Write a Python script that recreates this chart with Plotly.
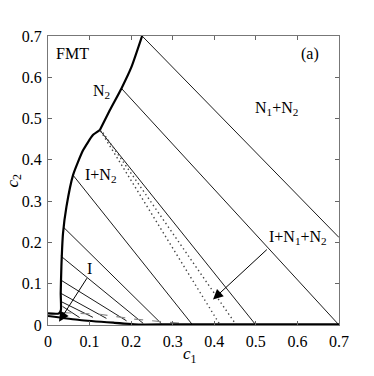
import plotly.graph_objects as go

# I/N2 binodal, lower branch (hook at the bottom up to the kink)
low_bin_c1 = [0.0, 0.026, 0.031, 0.0306, 0.0322, 0.0361, 0.0443, 0.0602, 0.0843, 0.108, 0.1245]
low_bin_c2 = [0.028, 0.028, 0.036, 0.0767, 0.141, 0.222, 0.286, 0.363, 0.423, 0.460, 0.472]
# N2 branch above the kink
up_bin_c1 = [0.1245, 0.1486, 0.1767, 0.2008, 0.2264]
up_bin_c2 = [0.472, 0.520, 0.573, 0.625, 0.700]

# lower thick boundary (I / N1 side)
low_c1 = [0.0, 0.076, 0.157, 0.221, 0.30, 0.70]
low_c2 = [0.0218, 0.0121, 0.0056, 0.0012, 0.0015, 0.0015]

# dashed curve
dash_c1 = [0.035, 0.125, 0.20, 0.33]
dash_c2 = [0.030, 0.026, 0.015, 0.003]

# solid tie lines (start -> end)
tie_x0 = [0.2264, 0.1767, 0.1245, 0.0602, 0.0361, 0.031, 0.0306, 0.031, 0.033, 0.035]
tie_y0 = [0.700, 0.573, 0.472, 0.363, 0.238, 0.167, 0.109, 0.0767, 0.056, 0.045]
tie_x1 = [0.700, 0.700, 0.500, 0.348, 0.273, 0.229, 0.189, 0.1405, 0.108, 0.076]
tie_y1 = [0.212, 0.000, 0.000, 0.000, 0.003, 0.004, 0.010, 0.016, 0.0186, 0.018]

# dotted three-phase triangle edges
dot_x0 = [0.1265, 0.132]
dot_y0 = [0.470, 0.466]
dot_x1 = [0.414, 0.453]
dot_y1 = [0.0, 0.0]

ticks = [0, 0.1, 0.2, 0.3, 0.4, 0.5, 0.6, 0.7]
tick_text = ["0", "0.1", "0.2", "0.3", "0.4", "0.5", "0.6", "0.7"]

font = "Times New Roman, Liberation Serif, serif"

fig = go.Figure()

tx, ty = [], []
for a, b, c, d in zip(tie_x0, tie_y0, tie_x1, tie_y1):
    tx += [a, c, None]
    ty += [b, d, None]
fig.add_trace(go.Scatter(x=tx, y=ty, mode="lines", line=dict(color="black", width=0.9)))

dx, dy = [], []
for a, b, c, d in zip(dot_x0, dot_y0, dot_x1, dot_y1):
    dx += [a, c, None]
    dy += [b, d, None]
fig.add_trace(go.Scatter(x=dx, y=dy, mode="lines", line=dict(color="#444", width=1.4, dash="1.4px,3px")))

fig.add_trace(go.Scatter(x=dash_c1, y=dash_c2, mode="lines", line=dict(color="#888", width=1.2, dash="dash")))
for xs, ys in [(low_bin_c1, low_bin_c2), (up_bin_c1, up_bin_c2), (low_c1, low_c2)]:
    fig.add_trace(go.Scatter(x=xs, y=ys, mode="lines",
                             line=dict(color="black", width=2.2, shape="spline", smoothing=0.5)))

txt = dict(family=font, size=16, color="black")
labels = [
    ("FMT", 0.060, 0.657),
    ("(a)", 0.63, 0.657),
    ("N<sub>2</sub>", 0.128, 0.565),
    ("N<sub>1</sub>+N<sub>2</sub>", 0.55, 0.524),
    ("I+N<sub>2</sub>", 0.128, 0.363),
    ("I", 0.1005, 0.138),
    ("I+N<sub>1</sub>+N<sub>2</sub>", 0.601, 0.213),
]
for t, x, y in labels:
    fig.add_annotation(x=x, y=y, text=t, showarrow=False, font=txt)

for (x0, y0, x1, y1) in [(0.096, 0.117, 0.0265, 0.008), (0.53, 0.186, 0.397, 0.062)]:
    fig.add_annotation(x=x1, y=y1, ax=x0, ay=y0, xref="x", yref="y", axref="x", ayref="y",
                       text="", showarrow=True, arrowhead=2, arrowsize=2, arrowwidth=1, arrowcolor="black")

# axis titles placed as paper-anchored text
title_font = dict(family=font, size=17, color="black")
fig.add_annotation(x=-0.12, y=0.5, xref="paper", yref="paper", text="<i>c</i><sub>2</sub>",
                   textangle=-90, showarrow=False, font=title_font, xanchor="center", yanchor="middle")
fig.add_annotation(x=0.488, y=-0.104, xref="paper", yref="paper", text="<i>c</i><sub>1</sub>",
                   showarrow=False, font=title_font, xanchor="center", yanchor="middle")

axis = dict(range=[0, 0.7], tickvals=ticks, ticktext=tick_text, ticks="inside", ticklen=4,
            tickcolor="#666", showline=True, linecolor="#777", linewidth=1.3, mirror="ticks",
            showgrid=False, zeroline=False, automargin=False, ticklabelstandoff=2,
            tickfont=dict(family=font, size=16, color="black"))

# the page body adds an 8px offset, so margins are shifted to keep the plot box in place
fig.update_layout(
    width=374, height=376,
    margin=dict(l=40, r=43, t=28, b=59),
    plot_bgcolor="white", paper_bgcolor="white",
    showlegend=False,
    font=dict(family=font, color="black"),
    xaxis=axis,
    yaxis=axis,
)

fig.write_html("out.html")
